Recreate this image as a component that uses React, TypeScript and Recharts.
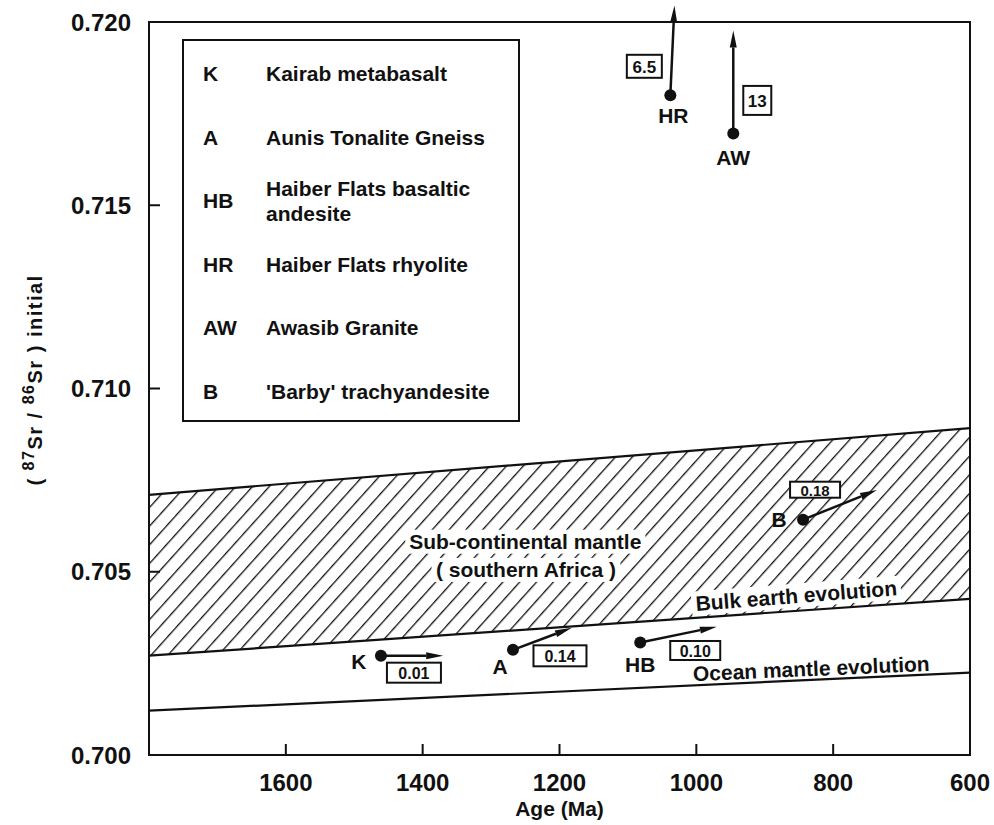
import React from "react";
import {
  ComposedChart,
  XAxis,
  YAxis,
  Area,
  Line,
  Scatter,
  ReferenceLine,
  ReferenceArea,
  Legend,
} from "recharts";

const FONT = "'Liberation Sans', Arial, sans-serif";
const INK = "#111";

// evolution lines, given at the two ends of the age axis
const BAND_AGES = [1800, 600];
const SUBCONT_UPPER = [0.7071, 0.70892];
const BULK_EARTH = [0.70271, 0.70426];
const OCEAN_MANTLE = [0.70121, 0.70225];

// samples: initial ratio at the crystallisation age and the direction vectors
const SAMPLE_CODES = ["K", "A", "HB", "HR", "AW", "B"];
const SAMPLE_AGES = [1461, 1268, 1082, 1038, 946, 844];
const SAMPLE_SR = [0.70271, 0.70287, 0.70307, 0.718, 0.71696, 0.70642];
const VECTOR_AGES = [1370, 1182, 970, 1032, 946, 736];
const VECTOR_SR = [0.70271, 0.70347, 0.7035, 0.72045, 0.71977, 0.70723];
const RB_SR_RATIOS = ["0.01", "0.14", "0.10", "6.5", "13", "0.18"];

const LEGEND_CODES = ["K", "A", "HB", "HR", "AW", "B"];
const LEGEND_NAMES = [
  "Kairab metabasalt",
  "Aunis Tonalite Gneiss",
  "Haiber Flats basaltic\nandesite",
  "Haiber Flats rhyolite",
  "Awasib Granite",
  "'Barby' trachyandesite",
];

const ANNOTATION_TEXTS = [
  "Sub-continental mantle",
  "( southern Africa )",
  "Bulk earth evolution",
  "Ocean mantle evolution",
];
const ANNOTATION_AGES = [1250, 1249, 854, 832];
const ANNOTATION_SR = [0.70582, 0.70505, 0.70435, 0.70236];

const X_TICKS = [1800, 1600, 1400, 1200, 1000, 800, 600];
const Y_TICKS = [0.7, 0.705, 0.71, 0.715, 0.72];

const bandData = BAND_AGES.map((age, i) => ({
  age,
  band: [BULK_EARTH[i], SUBCONT_UPPER[i]],
  upper: SUBCONT_UPPER[i],
  bulk: BULK_EARTH[i],
  ocean: OCEAN_MANTLE[i],
}));

const sampleData = SAMPLE_CODES.map((code, i) => ({
  code,
  age: SAMPLE_AGES[i],
  sr: SAMPLE_SR[i],
  ratio: RB_SR_RATIOS[i],
}));

const annotationData = ANNOTATION_TEXTS.map((text, i) => ({
  text,
  age: ANNOTATION_AGES[i],
  sr: ANNOTATION_SR[i],
}));

// pixel offsets of the code letter and the ratio box around each dot
const MARK_LAYOUT: Record<string, { code: number[]; box: number[]; fs: number }> = {
  K: { code: [-22, 6], box: [33, 17, 54, 20], fs: 16 },
  A: { code: [-13, 17], box: [47, 6, 53, 21], fs: 16 },
  HB: { code: [0, 22], box: [55, 8, 50, 19], fs: 16 },
  HR: { code: [3, 20], box: [-26, -29, 35, 23], fs: 17 },
  AW: { code: [0, 24], box: [24, -33, 28, 29], fs: 17 },
  B: { code: [-24, 0], box: [12, -30, 50, 16], fs: 15 },
};

const ANNOTATION_STYLE = [
  { rotate: 0, bg: true },
  { rotate: 0, bg: true },
  { rotate: -4.5, bg: true },
  { rotate: -2.5, bg: false },
];

let ctx: CanvasRenderingContext2D | null = null;
function measure(text: string, size: number) {
  if (!ctx) ctx = document.createElement("canvas").getContext("2d");
  if (!ctx) return text.length * size * 0.55;
  ctx.font = `bold ${size}px ${FONT}`;
  return ctx.measureText(text).width;
}

const XTick = (props: any) => {
  const { x, y, payload } = props;
  const v = payload.value;
  const inner = v !== 600 && v !== 1800;
  return (
    <g>
      {inner && <line x1={x} y1={y} x2={x} y2={y - 11} stroke={INK} strokeWidth={2} />}
      {v !== 1800 && (
        <text
          x={x}
          y={y + 27}
          textAnchor="middle"
          dominantBaseline="central"
          fontFamily={FONT}
          fontWeight="bold"
          fontSize={24}
          fill={INK}
        >
          {v}
        </text>
      )}
    </g>
  );
};

const YTick = (props: any) => {
  const { x, y, payload } = props;
  const v = payload.value;
  const inner = Math.abs(v - 0.7) > 1e-6 && Math.abs(v - 0.72) > 1e-6;
  return (
    <g>
      {inner && <line x1={x} y1={y} x2={x + 11} y2={y} stroke={INK} strokeWidth={2} />}
      <text
        x={x - 18}
        y={y}
        textAnchor="end"
        dominantBaseline="central"
        fontFamily={FONT}
        fontWeight="bold"
        fontSize={24}
        fill={INK}
      >
        {v.toFixed(3)}
      </text>
    </g>
  );
};

const YTitle = () => (
  <g>
    <defs>
      <pattern
        id="hatch"
        width="12.5"
        height="12.5"
        patternUnits="userSpaceOnUse"
        patternTransform="rotate(42)"
      >
        <line x1="0" y1="0" x2="0" y2="12.5" stroke={INK} strokeWidth="2.6" />
      </pattern>
    </defs>
    <text
      transform="translate(42, 380) rotate(-90)"
      textAnchor="middle"
      fontFamily={FONT}
      fontWeight="bold"
      fontSize={20}
      letterSpacing={1.5}
      fill={INK}
    >
      {"( "}
      <tspan fontSize={16} dy={-8}>87</tspan>
      <tspan dy={8}>{"Sr  /  "}</tspan>
      <tspan fontSize={16} dy={-8}>86</tspan>
      <tspan dy={8}>{"Sr  )  initial"}</tspan>
    </text>
  </g>
);

const Vector = (props: any) => {
  const { x1, y1, x2, y2 } = props;
  const dx = x2 - x1;
  const dy = y2 - y1;
  const len = Math.hypot(dx, dy) || 1;
  const ux = dx / len;
  const uy = dy / len;
  const hl = 17;
  const hw = 3.5;
  const bx = x2 - ux * hl;
  const by = y2 - uy * hl;
  const pts = `${x2},${y2} ${bx - uy * hw},${by + ux * hw} ${bx + uy * hw},${by - ux * hw}`;
  return (
    <g>
      <line x1={x1} y1={y1} x2={bx} y2={by} stroke={INK} strokeWidth={2.5} />
      <polygon points={pts} fill={INK} />
    </g>
  );
};

const SampleMark = (props: any) => {
  const { cx, cy, payload } = props;
  const lay = MARK_LAYOUT[payload.code];
  const [bx, by, bw, bh] = lay.box;
  return (
    <g>
      <circle cx={cx} cy={cy} r={6} fill={INK} />
      <text
        x={cx + lay.code[0]}
        y={cy + lay.code[1]}
        textAnchor="middle"
        dominantBaseline="central"
        fontFamily={FONT}
        fontWeight="bold"
        fontSize={21}
        fill={INK}
      >
        {payload.code}
      </text>
      <rect
        x={cx + bx - bw / 2}
        y={cy + by - bh / 2}
        width={bw}
        height={bh}
        fill="#fff"
        stroke={INK}
        strokeWidth={2}
      />
      <text
        x={cx + bx}
        y={cy + by + 1}
        textAnchor="middle"
        dominantBaseline="central"
        fontFamily={FONT}
        fontWeight="bold"
        fontSize={lay.fs}
        fill={INK}
      >
        {payload.ratio}
      </text>
    </g>
  );
};

const AnnotationMark = (props: any) => {
  const { cx, cy, payload, index } = props;
  const style = ANNOTATION_STYLE[index] || { rotate: 0, bg: false };
  const w = measure(payload.text, 21);
  return (
    <g transform={`rotate(${style.rotate}, ${cx}, ${cy})`}>
      {style.bg && (
        <rect x={cx - w / 2 - 4} y={cy - 12} width={w + 8} height={24} fill="#fff" />
      )}
      <text
        x={cx}
        y={cy}
        textAnchor="middle"
        dominantBaseline="central"
        fontFamily={FONT}
        fontWeight="bold"
        fontSize={21}
        fill={INK}
      >
        {payload.text}
      </text>
    </g>
  );
};

const LegendBox = () => (
  <div
    style={{
      position: "relative",
      width: 338,
      height: 383,
      border: `2px solid ${INK}`,
      boxSizing: "border-box",
      background: "#fff",
      fontFamily: FONT,
      fontWeight: "bold",
      fontSize: 21,
      color: INK,
    }}
  >
    {LEGEND_CODES.map((code, i) => {
      const lines = LEGEND_NAMES[i].split("\n");
      const center = 34 + i * 63.6;
      return (
        <React.Fragment key={code}>
          <div style={{ position: "absolute", left: 19, top: center - 14, lineHeight: "25px" }}>
            {code}
          </div>
          <div
            style={{
              position: "absolute",
              left: 82,
              top: center - 14 - (lines.length - 1) * 12.5,
              lineHeight: "25px",
              whiteSpace: "nowrap",
            }}
          >
            {lines.map((l) => (
              <div key={l}>{l}</div>
            ))}
          </div>
        </React.Fragment>
      );
    })}
  </div>
);

export default function App() {
  return (
    <div style={{ position: "absolute", left: 0, top: 0, background: "#fff" }}>
      <ComposedChart
        width={994}
        height={825}
        data={bandData}
        margin={{ top: 22, right: 24, bottom: 0, left: 0 }}
      >
        <XAxis
          type="number"
          dataKey="age"
          domain={[600, 1800]}
          reversed
          ticks={X_TICKS}
          tick={<XTick />}
          tickLine={false}
          axisLine={false}
          tickSize={0}
          tickMargin={0}
          height={70}
          label={{
            value: "Age (Ma)",
            position: "insideBottom",
            offset: 9,
            fontFamily: FONT,
            fontWeight: "bold",
            fontSize: 21,
            fill: INK,
          }}
        />
        <YAxis
          type="number"
          domain={[0.7, 0.72]}
          allowDataOverflow
          ticks={Y_TICKS}
          tick={<YTick />}
          tickLine={false}
          axisLine={false}
          tickSize={0}
          tickMargin={0}
          width={149}
          label={YTitle}
        />
        <Legend
          layout="vertical"
          align="center"
          verticalAlign="middle"
          content={LegendBox}
          wrapperStyle={{ left: 182, top: 39, width: 338, height: 383, margin: 0 }}
        />
        <Area
          type="linear"
          dataKey="band"
          stroke="none"
          fill="url(#hatch)"
          fillOpacity={1}
          isAnimationActive={false}
          activeDot={false}
        />
        <Scatter
          data={annotationData}
          dataKey="sr"
          shape={(p: any) => <AnnotationMark {...p} />}
          isAnimationActive={false}
        />
        <Line type="linear" dataKey="upper" stroke={INK} strokeWidth={2.2} dot={false} activeDot={false} isAnimationActive={false} />
        <Line type="linear" dataKey="bulk" stroke={INK} strokeWidth={2.2} dot={false} activeDot={false} isAnimationActive={false} />
        <Line type="linear" dataKey="ocean" stroke={INK} strokeWidth={2.2} dot={false} activeDot={false} isAnimationActive={false} />
        <ReferenceArea
          x1={600}
          x2={1800}
          y1={0.7}
          y2={0.72}
          fill="none"
          stroke={INK}
          strokeWidth={2}
          ifOverflow="visible"
        />
        {SAMPLE_CODES.map((code, i) => (
          <ReferenceLine
            key={code}
            segment={[
              { x: SAMPLE_AGES[i], y: SAMPLE_SR[i] },
              { x: VECTOR_AGES[i], y: VECTOR_SR[i] },
            ]}
            ifOverflow="visible"
            shape={(p: any) => <Vector {...p} />}
          />
        ))}
        <Scatter
          data={sampleData}
          dataKey="sr"
          shape={(p: any) => <SampleMark {...p} />}
          isAnimationActive={false}
        />
      </ComposedChart>
    </div>
  );
}
